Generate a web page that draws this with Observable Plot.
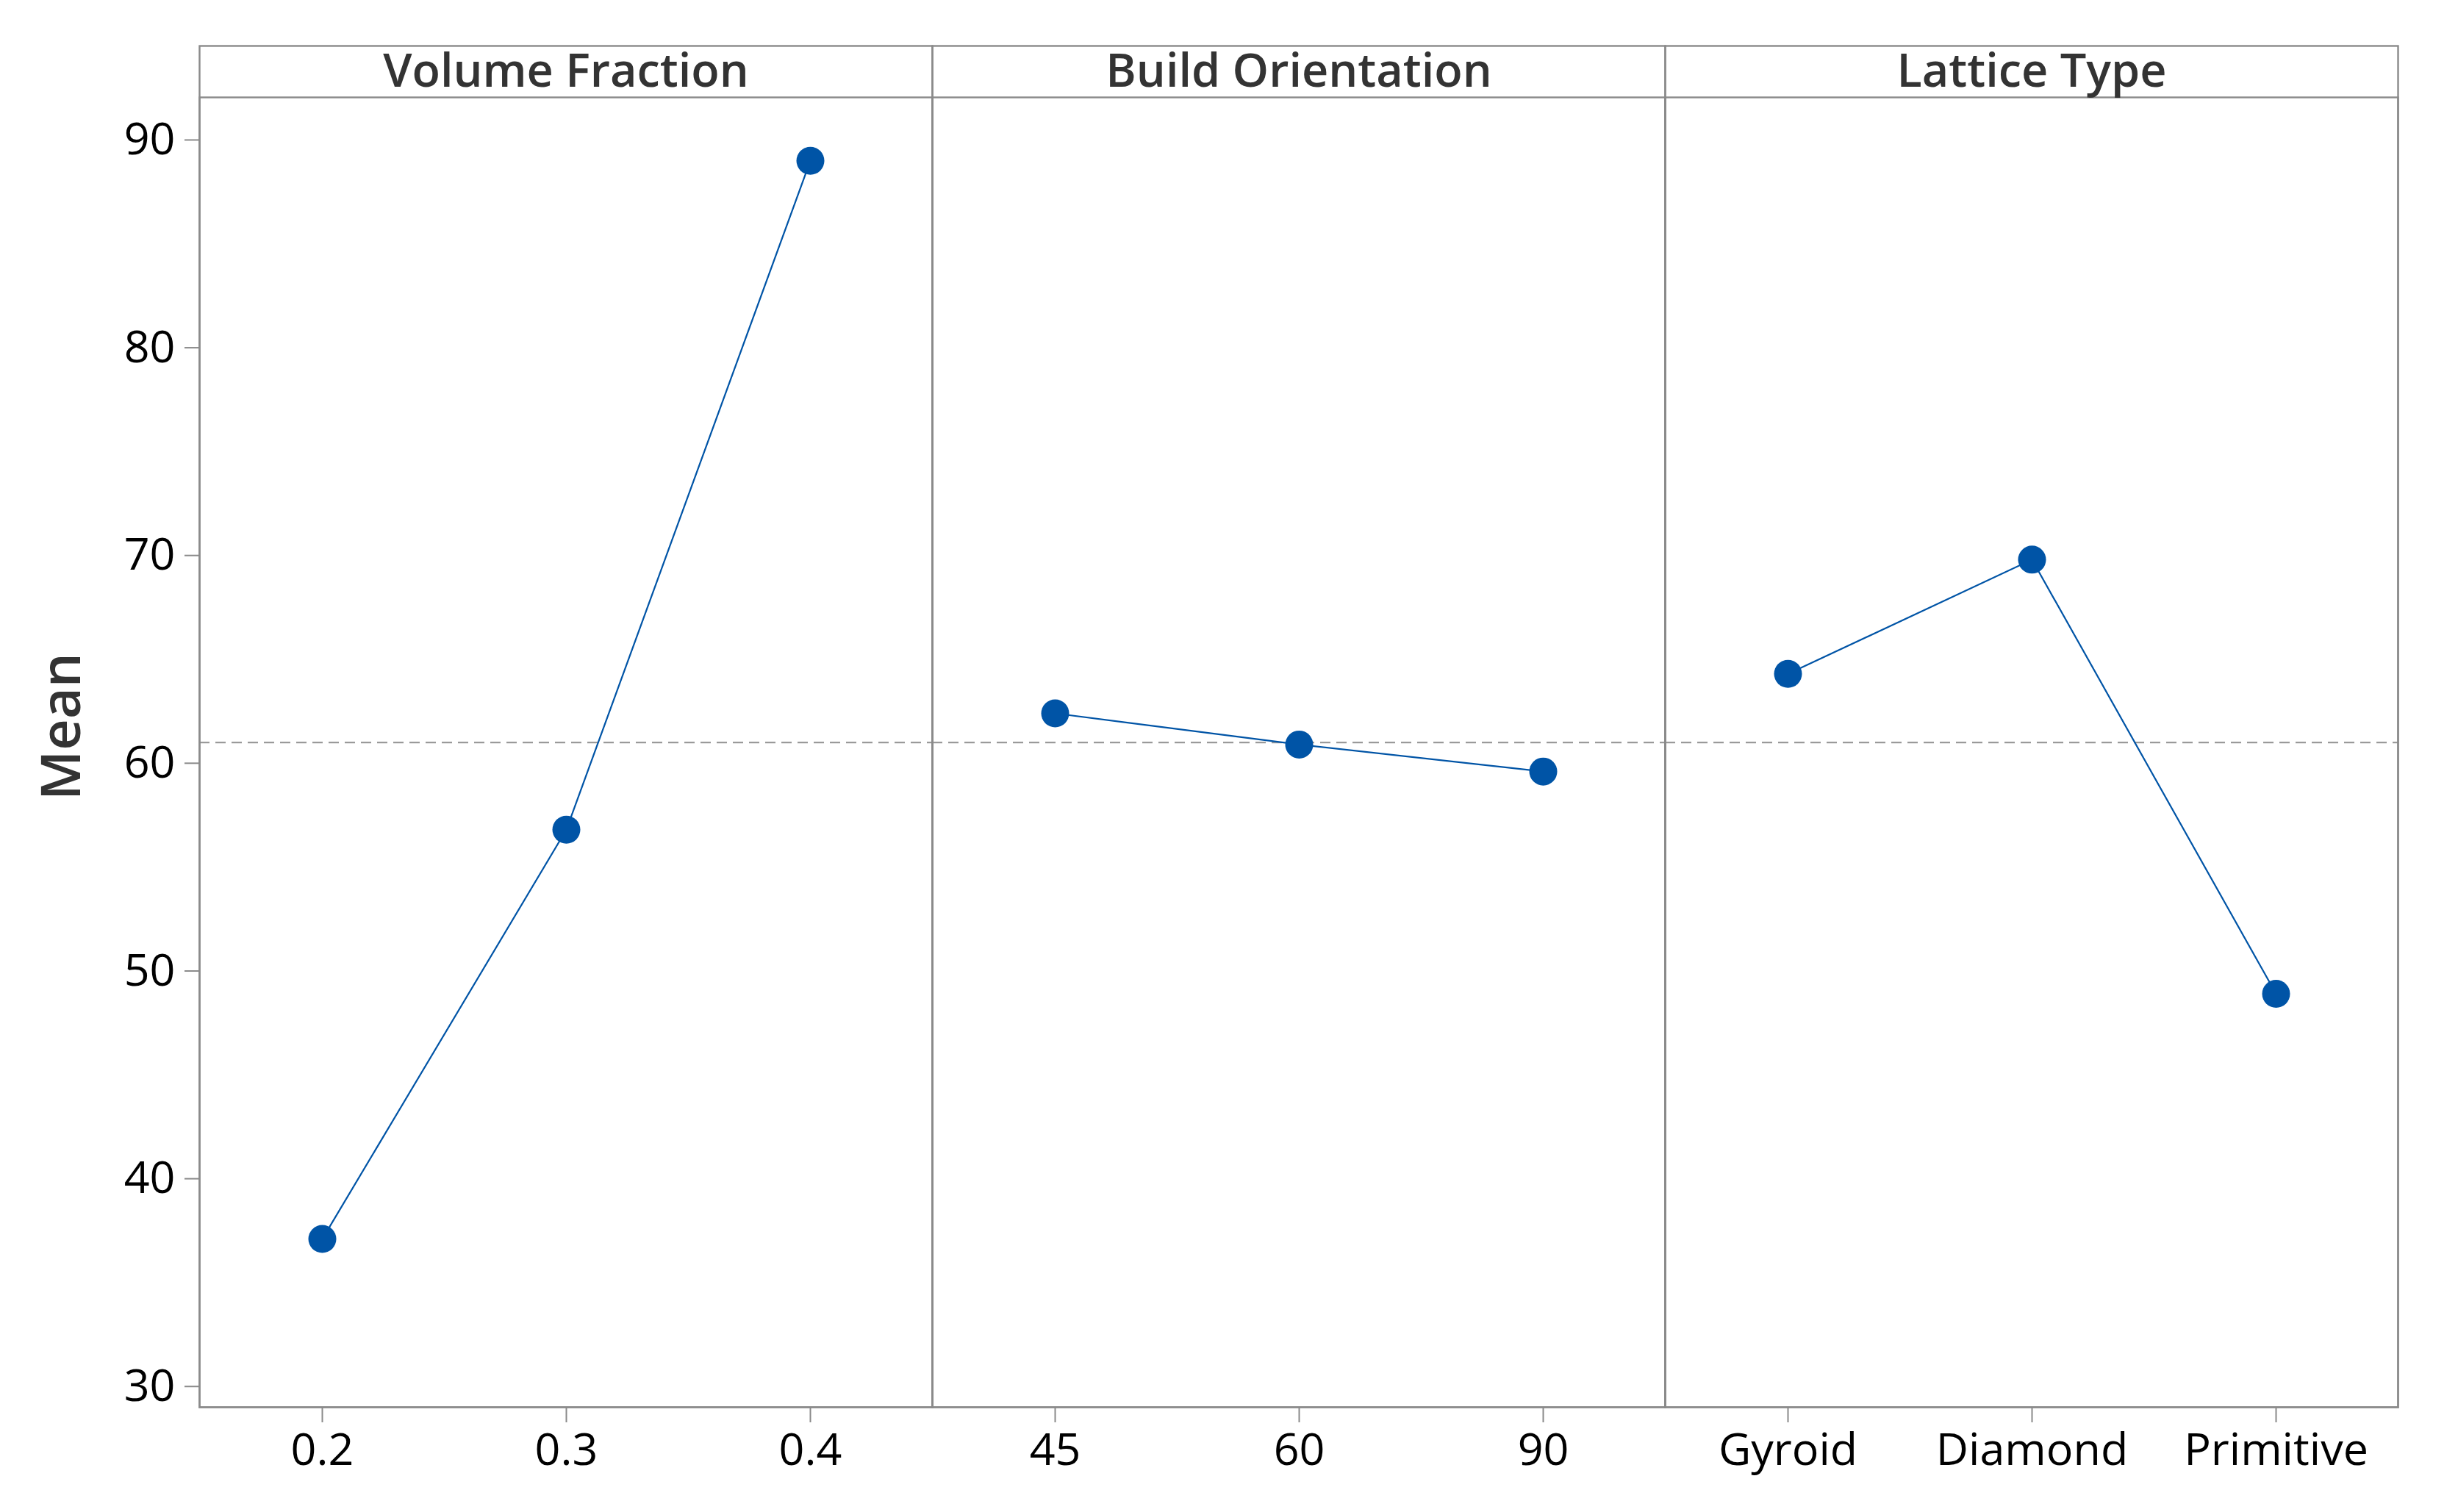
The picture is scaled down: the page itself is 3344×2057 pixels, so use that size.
<!DOCTYPE html>
<html>
<head>
<meta charset="utf-8">
<script src="https://cdn.jsdelivr.net/npm/d3@7"></script>
<script src="https://cdn.jsdelivr.net/npm/@observablehq/plot@0.6"></script>
<style>
  html, body { margin: 0; padding: 0; background: #fff; }
  #chart { width: 3344px; height: 2057px; }
</style>
</head>
<body>
<div id="chart"></div>
<script>
// ---- data ----
const factors = ["Volume Fraction", "Build Orientation", "Lattice Type"];
const levelsVF = ["0.2", "0.3", "0.4"];
const meansVF = [37.1, 56.8, 89.0];
const levelsBO = ["45", "60", "90"];
const meansBO = [62.4, 60.9, 59.6];
const levelsLT = ["Gyroid", "Diamond", "Primitive"];
const meansLT = [64.3, 69.8, 48.9];
const grandMean = 61.0;
const yTicks = [30, 40, 50, 60, 70, 80, 90];
const yLabel = "Mean";

// ---- table ----
const groups = [[levelsVF, meansVF], [levelsBO, meansBO], [levelsLT, meansLT]];
const rows = [];
groups.forEach(([levels, means], f) => {
  levels.forEach((lv, i) => rows.push({factor: factors[f], idx: i, level: lv, mean: means[i]}));
});

const blue = "#0054A6";
const gray = "#8a8a8a";

const chart = Plot.plot({
  width: 3344,
  height: 2057,
  marginLeft: 271,
  marginRight: 82,
  marginTop: 132,
  marginBottom: 143,
  style: {fontFamily: "'Open Sans', sans-serif", background: "#fff", color: "#000"},
  fx: {domain: factors, padding: 0, axis: null},
  x: {type: "point", domain: [0, 1, 2], padding: 0.5},
  y: {domain: [29, 92.05]},
  marks: [
    Plot.ruleY([grandMean], {stroke: "#9a9a9a", strokeWidth: 2.2, strokeDasharray: "14,8"}),
    Plot.frame({stroke: gray, strokeWidth: 2.4}),
    Plot.frame({stroke: gray, strokeWidth: 2.4, insetTop: -70}),
    Plot.text(factors, {fx: d => d, text: d => d, frameAnchor: "top", dy: -35, lineAnchor: "middle", fontSize: 63, fontWeight: 600, fill: "#333"}),
    Plot.axisY({ticks: yTicks, tickSize: 20, tickPadding: 13, fontSize: 61, fontWeight: 500, stroke: gray, strokeWidth: 2, fill: "#000", label: null}),
    Plot.text([{fx: factors[0], t: yLabel}], {fx: "fx", text: "t", frameAnchor: "left", dx: -186, dy: -35, rotate: -90, textAnchor: "middle", lineAnchor: "middle", fontSize: 74, fontWeight: 600, fill: "#333"}),
    Plot.axisX({tickSize: 21, tickFormat: () => "", stroke: gray, strokeWidth: 2, label: null}),
    Plot.text(rows, {fx: "factor", x: "idx", text: "level", frameAnchor: "bottom", dy: 59, lineAnchor: "middle", fontSize: 61, fontWeight: 500, fill: "#000"}),
    Plot.line(rows, {fx: "factor", x: "idx", y: "mean", stroke: blue, strokeWidth: 2.2}),
    Plot.dot(rows, {fx: "factor", x: "idx", y: "mean", r: 19, fill: blue})
  ]
});
document.getElementById("chart").append(chart);
</script>
</body>
</html>
